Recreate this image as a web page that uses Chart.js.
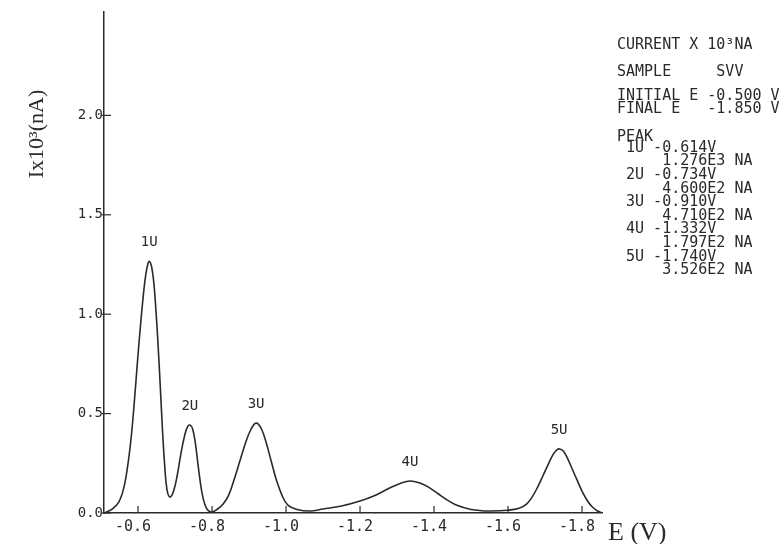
<!DOCTYPE html>
<html>
<head>
<meta charset="utf-8">
<script src="https://cdn.jsdelivr.net/npm/chart.js@4.4.1/dist/chart.umd.min.js"></script>
<style>
html,body{margin:0;padding:0;background:#fff;}
canvas{display:block;}
</style>
</head>
<body>
<canvas id="c" width="782" height="544"></canvas>
<script>
// ---- data ----
const potentialE = [-0.508,-0.530,-0.548,-0.562,-0.573,-0.582,-0.590,-0.598,-0.606,-0.614,-0.621,-0.627,-0.631,-0.636,-0.642,-0.648,-0.654,-0.660,-0.666,-0.672,-0.678,-0.686,
  -0.696,-0.706,-0.716,-0.726,-0.734,-0.741,-0.748,-0.755,-0.763,-0.772,-0.781,-0.790,-0.800,
  -0.815,-0.830,-0.845,-0.860,-0.875,-0.890,-0.905,-0.919,-0.933,-0.947,-0.960,-0.975,-0.990,-1.005,-1.030,
  -1.065,-1.100,-1.150,-1.200,-1.240,-1.280,-1.310,-1.335,-1.360,-1.385,-1.410,-1.435,-1.460,-1.500,-1.550,-1.600,
  -1.630,-1.650,-1.665,-1.680,-1.695,-1.710,-1.722,-1.732,-1.740,-1.750,-1.762,-1.775,-1.788,-1.800,-1.814,-1.828,-1.842,-1.854];
const currentI = [0.000,0.020,0.055,0.130,0.250,0.390,0.560,0.750,0.930,1.090,1.200,1.256,1.266,1.245,1.170,1.030,0.850,0.640,0.420,0.240,0.120,0.080,
  0.110,0.190,0.300,0.390,0.435,0.442,0.420,0.350,0.230,0.110,0.040,0.012,0.005,
  0.020,0.045,0.090,0.170,0.260,0.350,0.420,0.452,0.425,0.350,0.260,0.160,0.085,0.040,0.018,
  0.010,0.020,0.035,0.060,0.088,0.126,0.150,0.161,0.152,0.130,0.098,0.066,0.040,0.018,0.010,0.014,
  0.024,0.045,0.080,0.130,0.190,0.250,0.295,0.318,0.322,0.310,0.270,0.215,0.160,0.110,0.063,0.030,0.010,0.000];

const peakNames = ["1U","2U","3U","4U","5U"];
const peakE = [-0.630,-0.740,-0.919,-1.335,-1.738];
const peakI = [1.266,0.442,0.452,0.161,0.322];

const xTicks = [-0.6,-0.8,-1.0,-1.2,-1.4,-1.6,-1.8];
const yTicks = [0.0,0.5,1.0,1.5,2.0];

const infoLines = [
  ["CURRENT X 10\u00B3NA", 45],
  ["SAMPLE     SVV", 72],
  ["INITIAL E -0.500 V", 96],
  ["FINAL E   -1.850 V", 109],
  ["PEAK", 137],
  [" 1U -0.614V", 148],
  ["     1.276E3 NA", 161.6],
  [" 2U -0.734V", 175.2],
  ["     4.600E2 NA", 188.8],
  [" 3U -0.910V", 202.4],
  ["     4.710E2 NA", 216],
  [" 4U -1.332V", 229.6],
  ["     1.797E2 NA", 243.2],
  [" 5U -1.740V", 256.8],
  ["     3.526E2 NA", 270.4]
];

const INK = '#2a2a2a';
const MONO = '"DejaVu Sans Mono", monospace';
const SERIF = '"Liberation Serif", "DejaVu Serif", serif';

const decor = {
  id: 'decor',
  afterDraw(chart) {
    const ctx = chart.ctx;
    const xs = chart.scales.x, ys = chart.scales.y;
    ctx.save();
    ctx.strokeStyle = INK;
    ctx.lineWidth = 1.2;
    // inward ticks
    ys.ticks.forEach(t => {
      const py = ys.getPixelForValue(t.value);
      ctx.beginPath();
      ctx.moveTo(xs.left - 2, py);
      ctx.lineTo(xs.left + 7, py);
      ctx.stroke();
    });
    xs.ticks.forEach(t => {
      const px = xs.getPixelForValue(t.value);
      ctx.beginPath();
      ctx.moveTo(px, ys.bottom);
      ctx.lineTo(px, ys.bottom - 7);
      ctx.stroke();
    });
    // peak labels
    ctx.fillStyle = INK;
    ctx.font = '14px ' + MONO;
    ctx.textAlign = 'center';
    ctx.textBaseline = 'middle';
    peakNames.forEach((n, i) => {
      const px = xs.getPixelForValue(peakE[i]);
      const py = ys.getPixelForValue(peakI[i]);
      ctx.fillText(n, px, py - 19);
    });
    // info block
    ctx.font = '15px ' + MONO;
    ctx.textAlign = 'left';
    infoLines.forEach(([s, y]) => ctx.fillText(s, 617, y));
    // axis titles
    ctx.font = '22px ' + SERIF;
    ctx.save();
    ctx.translate(37, 134);
    ctx.rotate(-Math.PI / 2);
    ctx.textAlign = 'center';
    ctx.fillText('Ix10\u00B3(nA)', 0, 0);
    ctx.restore();
    ctx.font = '26px ' + SERIF;
    ctx.textAlign = 'left';
    ctx.textBaseline = 'alphabetic';
    ctx.fillText('E (V)', 608, 540);
    ctx.restore();
  }
};

new Chart(document.getElementById('c'), {
  type: 'line',
  data: {
    datasets: [{
      data: potentialE.map((e, i) => ({x: e, y: currentI[i]})),
      borderColor: INK,
      borderWidth: 1.6,
      pointRadius: 0,
      fill: false,
      tension: 0.4
    }]
  },
  options: {
    responsive: false,
    animation: false,
    events: [],
    layout: {padding: {top: 12, right: 180, left: 0, bottom: 0}},
    plugins: {legend: {display: false}, tooltip: {enabled: false}},
    scales: {
      x: {
        type: 'linear',
        reverse: true,
        min: -1.854,
        max: -0.508,
        afterBuildTicks: s => { s.ticks = xTicks.map(v => ({value: v})); },
        afterFit: s => { s.height = 31; },
        grid: {drawOnChartArea: false, drawTicks: false},
        border: {display: true, color: INK, width: 1.5},
        ticks: {
          color: INK,
          font: {family: MONO, size: 15},
          padding: 5,
          labelOffset: -5,
          maxRotation: 0,
          autoSkip: false,
          callback: v => Number(v).toFixed(1)
        }
      },
      y: {
        type: 'linear',
        min: 0,
        max: 2.52,
        afterBuildTicks: s => { s.ticks = yTicks.map(v => ({value: v})); },
        afterFit: s => { s.width = 104; },
        grid: {drawOnChartArea: false, drawTicks: false},
        border: {display: true, color: INK, width: 1.5},
        ticks: {
          color: INK,
          font: {family: MONO, size: 14},
          padding: 1,
          autoSkip: false,
          callback: v => Number(v).toFixed(1)
        }
      }
    }
  },
  plugins: [decor]
});
</script>
</body>
</html>
